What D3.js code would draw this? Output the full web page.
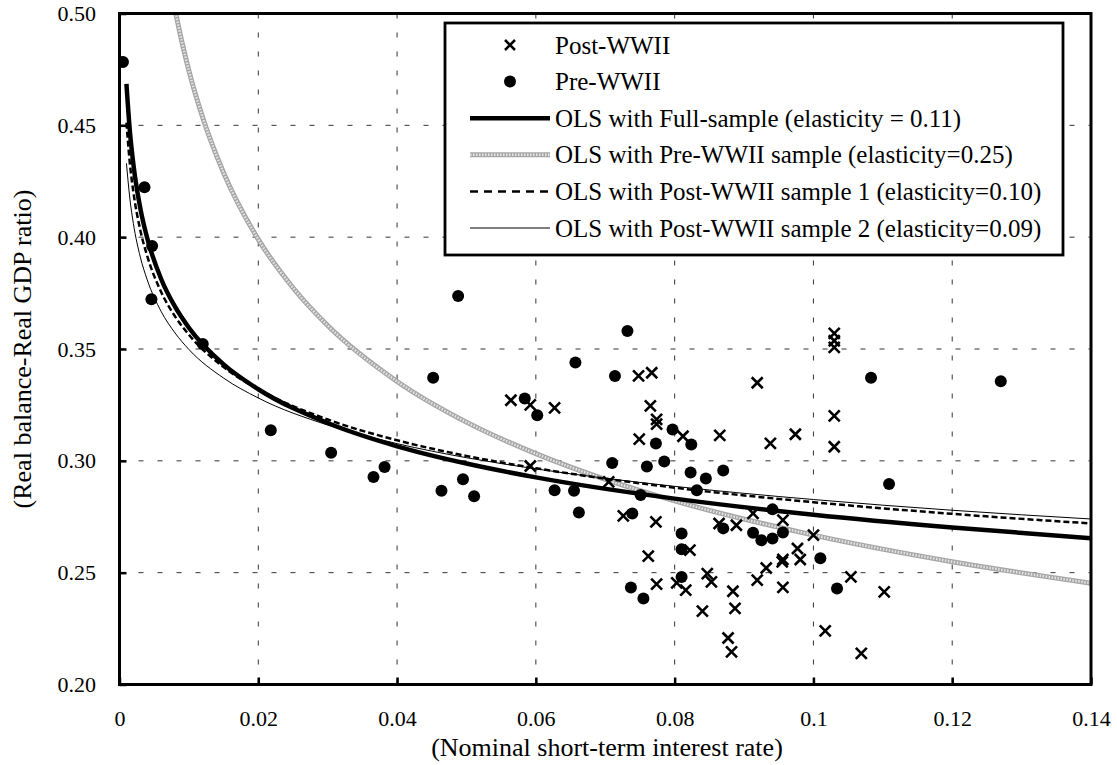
<!DOCTYPE html>
<html>
<head>
<meta charset="utf-8">
<script src="https://cdn.jsdelivr.net/npm/d3@7"></script>
<style>
  html, body { margin: 0; padding: 0; background: #fff; }
  svg { display: block; }
  text { font-family: "Liberation Serif", "Times New Roman", serif; fill: #000; }
</style>
</head>
<body>
<svg id="chart" width="1117" height="765"></svg>
<script>
// ---------------- data ----------------
const xTickValues = [0, 0.02, 0.04, 0.06, 0.08, 0.10, 0.12, 0.14];
const xTickLabels = ["0", "0.02", "0.04", "0.06", "0.08", "0.1", "0.12", "0.14"];
const yTickValues = [0.20, 0.25, 0.30, 0.35, 0.40, 0.45, 0.50];
const yTickLabels = ["0.20", "0.25", "0.30", "0.35", "0.40", "0.45", "0.50"];

const xTitle = "(Nominal short-term interest rate)";
const yTitle = "(Real balance-Real GDP ratio)";

// Post-WWII observations [rate, ratio]
const postWWII = [
  [0.0564, 0.3271], [0.0592, 0.3250], [0.0627, 0.3237], [0.0592, 0.2977], [0.0705, 0.2906],
  [0.0748, 0.3380], [0.0767, 0.3394], [0.0765, 0.3246], [0.0774, 0.3185], [0.0774, 0.3164],
  [0.0749, 0.3097], [0.0812, 0.3110], [0.0865, 0.3114], [0.0726, 0.2754], [0.0773, 0.2727],
  [0.0822, 0.2601], [0.0762, 0.2574], [0.0847, 0.2496], [0.0853, 0.2459], [0.0774, 0.2449],
  [0.0803, 0.2454], [0.0816, 0.2422], [0.0840, 0.2328], [0.0884, 0.2417], [0.0887, 0.2340],
  [0.0877, 0.2208], [0.0882, 0.2146], [0.0864, 0.2720], [0.0889, 0.2712], [0.0913, 0.2765],
  [0.0956, 0.2735], [0.1000, 0.2668], [0.0977, 0.2608], [0.0981, 0.2559], [0.0956, 0.2559],
  [0.0955, 0.2548], [0.0932, 0.2521], [0.0919, 0.2467], [0.0956, 0.2434], [0.1054, 0.2481],
  [0.1102, 0.2414], [0.1017, 0.2240], [0.1069, 0.2139], [0.1030, 0.3570], [0.1030, 0.3537],
  [0.1030, 0.3507], [0.0919, 0.3349], [0.1030, 0.3201], [0.0974, 0.3119], [0.0938, 0.3078],
  [0.1030, 0.3063]
];

// Pre-WWII observations [rate, ratio]
const preWWII = [
  [0.0005, 0.4783], [0.0036, 0.4223], [0.0047, 0.3960], [0.0046, 0.3722], [0.0120, 0.3522],
  [0.0218, 0.3137], [0.0305, 0.3036], [0.0366, 0.2928], [0.0382, 0.2972], [0.0452, 0.3371],
  [0.0488, 0.3737], [0.0464, 0.2866], [0.0495, 0.2918], [0.0511, 0.2842], [0.0584, 0.3279],
  [0.0602, 0.3204], [0.0627, 0.2869], [0.0655, 0.2866], [0.0657, 0.3440], [0.0662, 0.2769],
  [0.0710, 0.2990], [0.0714, 0.3379], [0.0732, 0.3581], [0.0737, 0.2434], [0.0739, 0.2765],
  [0.0751, 0.2847], [0.0755, 0.2385], [0.0760, 0.2975], [0.0773, 0.3078], [0.0785, 0.2997],
  [0.0797, 0.3140], [0.0810, 0.2675], [0.0810, 0.2605], [0.0810, 0.2481], [0.0823, 0.2948],
  [0.0824, 0.3073], [0.0832, 0.2869], [0.0845, 0.2921], [0.0870, 0.2957], [0.0870, 0.2698],
  [0.0913, 0.2678], [0.0925, 0.2645], [0.0941, 0.2653], [0.0941, 0.2783], [0.0956, 0.2680],
  [0.1010, 0.2564], [0.1034, 0.2429], [0.1083, 0.3371], [0.1109, 0.2896], [0.1270, 0.3356]
];

// fitted curves
const curveRates = [0.001, 0.0015, 0.002, 0.003, 0.004, 0.006, 0.008, 0.01, 0.015, 0.02,
                    0.03, 0.04, 0.05, 0.06, 0.08, 0.10, 0.12, 0.14];
const olsFull  = [0.4685, 0.4472, 0.4326, 0.4129, 0.3995, 0.3813, 0.3689, 0.3595, 0.3431, 0.3320,
                  0.3169, 0.3065, 0.2988, 0.2926, 0.2831, 0.2759, 0.2702, 0.2654];
const olsPost1 = [0.4512, 0.4328, 0.4202, 0.4031, 0.3915, 0.3755, 0.3646, 0.3564, 0.3419, 0.3320,
                  0.3185, 0.3092, 0.3022, 0.2967, 0.2880, 0.2815, 0.2763, 0.2720];
const olsPost2 = [0.4330, 0.4171, 0.4061, 0.3911, 0.3809, 0.3668, 0.3572, 0.3498, 0.3370, 0.3281,
                  0.3160, 0.3077, 0.3014, 0.2964, 0.2886, 0.2827, 0.2779, 0.2740];
const preRates = [0.008, 0.009, 0.01, 0.012, 0.015, 0.02, 0.025, 0.03, 0.04, 0.05, 0.06, 0.07,
                  0.08, 0.10, 0.12, 0.14];
const olsPre   = [0.5017, 0.4872, 0.4745, 0.4534, 0.4288, 0.3990, 0.3774, 0.3605, 0.3355, 0.3173,
                  0.3032, 0.2917, 0.2821, 0.2668, 0.2549, 0.2453];

const legendLabels = [
  "Post-WWII",
  "Pre-WWII",
  "OLS with Full-sample (elasticity = 0.11)",
  "OLS with Pre-WWII sample (elasticity=0.25)",
  "OLS with Post-WWII sample 1 (elasticity=0.10)",
  "OLS with Post-WWII sample 2 (elasticity=0.09)"
];

// ---------------- layout ----------------
const L = 119.5, R = 1091, T = 13.5, B = 684.5;
const svg = d3.select("#chart");
const x = d3.scaleLinear().domain([0, 0.14]).range([L, R]);
const y = d3.scaleLinear().domain([0.20, 0.50]).range([B, T]);

svg.append("defs").append("clipPath").attr("id", "plotclip")
  .append("rect").attr("x", L).attr("y", T).attr("width", R - L).attr("height", B - T);

// grid
const grid = svg.append("g").attr("stroke", "#333").attr("stroke-width", 1);
grid.selectAll("line.h").data(yTickValues.slice(1, -1)).join("line")
  .attr("x1", L).attr("x2", R).attr("y1", d => y(d)).attr("y2", d => y(d))
  .attr("stroke-dasharray", "5,14");
grid.selectAll("line.v").data(xTickValues.slice(1, -1)).join("line")
  .attr("y1", T).attr("y2", B).attr("x1", d => x(d)).attr("x2", d => x(d))
  .attr("stroke-dasharray", "5,14");

// axes
const fmtX = d => xTickLabels[xTickValues.indexOf(d)];
const fmtY = d => yTickLabels[yTickValues.indexOf(d)];
const xAxis = svg.append("g").attr("transform", `translate(0,${B})`)
  .call(d3.axisBottom(x).tickValues(xTickValues).tickFormat(fmtX).tickSize(-7).tickPadding(26));
const yAxis = svg.append("g").attr("transform", `translate(${L},0)`)
  .call(d3.axisLeft(y).tickValues(yTickValues).tickFormat(fmtY).tickSize(-7).tickPadding(23.5));
[xAxis, yAxis].forEach(a => {
  a.select(".domain").remove();
  a.selectAll(".tick line").attr("stroke", "#000").attr("stroke-width", 2.5);
  a.selectAll("text").attr("font-family", "Liberation Serif").attr("font-size", 22).attr("fill", "#000");
});

// curves
const lineGen = d3.line().x(d => x(d[0])).y(d => y(d[1])).curve(d3.curveMonotoneX);
const curves = svg.append("g").attr("clip-path", "url(#plotclip)").attr("fill", "none");
const zip = (xs, ys) => xs.map((v, i) => [v, ys[i]]);

curves.append("path").datum(zip(preRates, olsPre)).attr("d", lineGen)
  .attr("stroke", "#a6a6a6").attr("stroke-width", 5);
curves.append("path").datum(zip(preRates, olsPre)).attr("d", lineGen)
  .attr("stroke", "#e6e6e6").attr("stroke-width", 2.5).attr("stroke-dasharray", "1.5,1.5");
curves.append("path").datum(zip(curveRates, olsPost2)).attr("d", lineGen)
  .attr("stroke", "#000").attr("stroke-width", 1);
curves.append("path").datum(zip(curveRates, olsPost1)).attr("d", lineGen)
  .attr("stroke", "#000").attr("stroke-width", 2.5).attr("stroke-dasharray", "6,3");
curves.append("path").datum(zip(curveRates, olsFull)).attr("d", lineGen)
  .attr("stroke", "#000").attr("stroke-width", 4.5);

// points
const pts = svg.append("g").attr("clip-path", "url(#plotclip)");
pts.selectAll("circle").data(preWWII).join("circle")
  .attr("cx", d => x(d[0])).attr("cy", d => y(d[1])).attr("r", 6).attr("fill", "#000");
const xs = 5.5;
pts.selectAll("path.cross").data(postWWII).join("path").attr("class", "cross")
  .attr("d", d => {
    const cx = x(d[0]), cy = y(d[1]);
    return `M${cx - xs},${cy - xs}L${cx + xs},${cy + xs}M${cx - xs},${cy + xs}L${cx + xs},${cy - xs}`;
  })
  .attr("stroke", "#000").attr("stroke-width", 2.6).attr("fill", "none");

// legend
const lg = svg.append("g");
lg.append("rect").attr("x", 445).attr("y", 23).attr("width", 618).attr("height", 232)
  .attr("fill", "#fff").attr("stroke", "#000").attr("stroke-width", 2.8);
const rowY = i => 45 + i * 36.6;
lg.selectAll("text").data(legendLabels).join("text")
  .attr("x", 555).attr("y", (d, i) => rowY(i)).attr("dy", "0.34em")
  .attr("font-size", 25).text(d => d);
// symbols
const c0 = 510;
lg.append("path")
  .attr("d", `M${c0 - 5},${rowY(0) - 5}L${c0 + 5},${rowY(0) + 5}M${c0 - 5},${rowY(0) + 5}L${c0 + 5},${rowY(0) - 5}`)
  .attr("stroke", "#000").attr("stroke-width", 2.5);
lg.append("circle").attr("cx", c0).attr("cy", rowY(1)).attr("r", 6).attr("fill", "#000");
lg.append("line").attr("x1", 470).attr("x2", 550).attr("y1", rowY(2)).attr("y2", rowY(2))
  .attr("stroke", "#000").attr("stroke-width", 4.5);
lg.append("line").attr("x1", 470).attr("x2", 550).attr("y1", rowY(3)).attr("y2", rowY(3))
  .attr("stroke", "#a6a6a6").attr("stroke-width", 5);
lg.append("line").attr("x1", 470).attr("x2", 550).attr("y1", rowY(3)).attr("y2", rowY(3))
  .attr("stroke", "#e6e6e6").attr("stroke-width", 2.5).attr("stroke-dasharray", "1.5,1.5");
lg.append("line").attr("x1", 470).attr("x2", 550).attr("y1", rowY(4)).attr("y2", rowY(4))
  .attr("stroke", "#000").attr("stroke-width", 2.5).attr("stroke-dasharray", "8,6");
lg.append("line").attr("x1", 470).attr("x2", 550).attr("y1", rowY(5)).attr("y2", rowY(5))
  .attr("stroke", "#000").attr("stroke-width", 1);

// border
svg.append("rect").attr("x", L).attr("y", T).attr("width", R - L).attr("height", B - T)
  .attr("fill", "none").attr("stroke", "#000").attr("stroke-width", 3);

// titles
svg.append("text").attr("x", 607).attr("y", 756).attr("text-anchor", "middle")
  .attr("font-size", 26).text(xTitle);
svg.append("text").attr("transform", `translate(31,${(T + B) / 2}) rotate(-90)`)
  .attr("text-anchor", "middle").attr("font-size", 26).text(yTitle);
</script>
</body>
</html>
